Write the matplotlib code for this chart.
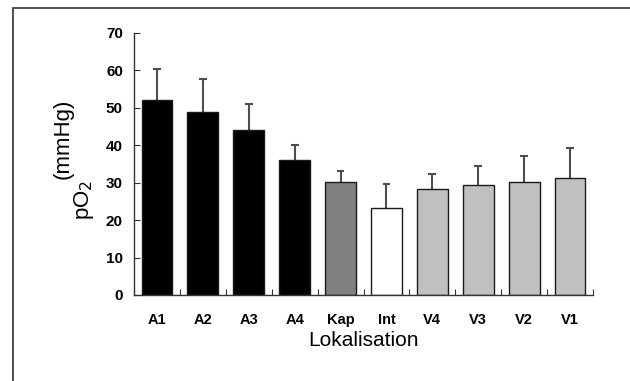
import matplotlib.pyplot as plt
from matplotlib.patches import Rectangle

plt.rcParams["font.family"] = ["Liberation Sans", "DejaVu Sans"]

categories = ["A1", "A2", "A3", "A4", "Kap", "Int", "V4", "V3", "V2", "V1"]
means = [52.2, 49.0, 44.0, 36.0, 30.3, 23.2, 28.3, 29.3, 30.3, 31.3]
upper = [60.4, 57.7, 51.1, 40.1, 33.1, 29.7, 32.2, 34.5, 37.2, 39.2]
colors = ["#000000"] * 4 + ["#808080", "#ffffff"] + ["#c0c0c0"] * 4

fig = plt.figure(figsize=(6.30, 3.81), dpi=100)
ax = fig.add_axes([134 / 630, 1 - 295 / 381, (593 - 134) / 630, (295 - 33) / 381])

x = list(range(len(categories)))
# upper error bars only (drawn behind the bars)
ax.vlines(x, means, upper, color="#4d4d4d", linewidth=1.5, zorder=1)
ax.hlines(upper, [i - 0.085 for i in x], [i + 0.085 for i in x], color="#4d4d4d",
          linewidth=1.5, zorder=1)
ax.bar(x, means, width=0.67, color=colors, edgecolor="#1a1a1a", linewidth=1.0, zorder=2)

ax.set_xlim(-0.5, len(categories) - 0.5)
ax.set_ylim(0, 70)
ax.set_yticks(range(0, 71, 10))
ax.set_xticks([i - 0.5 for i in range(len(categories) + 1)])
ax.set_xticklabels([])
ax.set_xticks(x, minor=True)
ax.set_xticklabels(categories, minor=True, fontsize=10.5, fontweight="bold")
ax.tick_params(axis="x", which="minor", length=0, pad=13.2)
ax.tick_params(axis="x", which="major", direction="in", length=4, color="#333333")
ax.tick_params(axis="y", direction="in", length=4, color="#333333", labelsize=11, pad=8)
for lab in ax.get_yticklabels():
    lab.set_fontweight("bold")

for side in ["top", "right"]:
    ax.spines[side].set_visible(False)
for side in ["left", "bottom"]:
    ax.spines[side].set_color("#333333")
    ax.spines[side].set_linewidth(1.0)

ax.set_xlabel("Lokalisation", fontsize=15, labelpad=3)

# y label: pO2 and (mmHg) slightly offset as in the original
fig.text(84 / 630, 1 - 200 / 381, "pO$_2$", rotation=90, ha="center", va="center", fontsize=16)
fig.text(63 / 630, 1 - 139 / 381, "(mmHg)", rotation=90, ha="center", va="center", fontsize=16)

# outer frame (clipped at right and bottom)
fig.patches.append(Rectangle((13 / 630, -0.1), 1.2, 1 - 8 / 381 + 0.1, transform=fig.transFigure,
                             fill=False, edgecolor="#333333", linewidth=1.2))

fig.savefig("out.png", dpi=100)
